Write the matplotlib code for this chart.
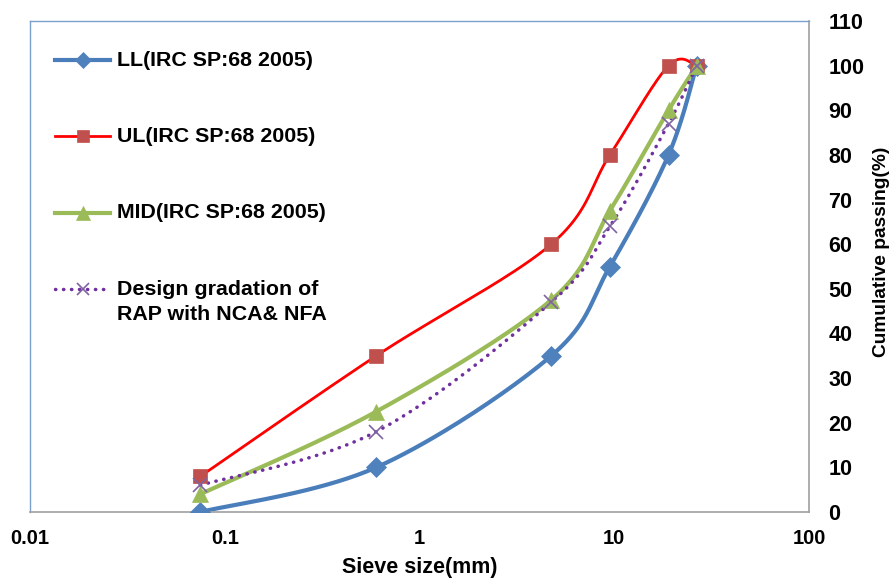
import numpy as np
import matplotlib
matplotlib.use("Agg")
import matplotlib.pyplot as plt
from matplotlib.lines import Line2D

sieve = [0.075, 0.6, 4.75, 9.5, 19, 26.5]
ll = [0, 10, 35, 55, 80, 100]
ul = [8, 35, 60, 80, 100, 100]
mid = [4, 22.5, 47.5, 67.5, 90, 100]
design = [6, 18, 47, 64, 87, 100]

labels = ["LL(IRC SP:68 2005)", "UL(IRC SP:68 2005)", "MID(IRC SP:68 2005)",
          "Design gradation of\nRAP with NCA& NFA"]
xticks = [0.01, 0.1, 1, 10, 100]
xticklabels = ["0.01", "0.1", "1", "10", "100"]
yticks = list(range(0, 111, 10))

plt.rcParams['font.family'] = ['Liberation Sans', 'DejaVu Sans']

W, H = 895, 579


def smooth(xs, ys, n=40):
    lx = np.log10(np.array(xs, float))
    y = np.array(ys, float)
    P = np.column_stack([lx, y])
    pts = []
    for i in range(len(P) - 1):
        p0 = P[i - 1] if i > 0 else P[i]
        p1 = P[i]
        p2 = P[i + 1]
        p3 = P[i + 2] if i + 2 < len(P) else P[i + 1]
        c1 = p1 + (p2 - p0) / 6
        c2 = p2 - (p3 - p1) / 6
        t = np.linspace(0, 1, n)[:, None]
        seg = ((1 - t) ** 3) * p1 + 3 * ((1 - t) ** 2) * t * c1 + 3 * (1 - t) * t ** 2 * c2 + t ** 3 * p2
        pts.append(seg if i == 0 else seg[1:])
    pts = np.vstack(pts)
    return 10 ** pts[:, 0], pts[:, 1]


fig = plt.figure(figsize=(W / 100, H / 100), dpi=100)
ax = fig.add_axes([30 / W, 1 - 512 / H, 779 / W, 491 / H])

series = [
    (ll, "#4A7EBB", 3.0, "-", "D", "#4F81BD", 10, labels[0]),
    (ul, "#FF0000", 2.0, "-", "s", "#C0504D", 9.5, labels[1]),
    (mid, "#9BBB59", 3.0, "-", "^", "#9BBB59", 12, labels[2]),
    (design, "#7030A0", 2.5, (0, (0.1, 2.2)), "x", "#8064A2", 10, labels[3]),
]
for ys, lc, lw, ls, mk, mc, ms, lab in series:
    sx, sy = smooth(sieve, ys)
    ax.plot(sx, sy, color=lc, lw=lw, ls=ls, zorder=2, dash_capstyle="round", solid_capstyle="round")
    ax.plot(sieve, ys, ls="none", marker=mk, color=mc, ms=ms,
            mew=1.2 if mk == "x" else 0.5, zorder=3)

ax.set_xscale("log")
ax.set_xlim(0.01, 100)
ax.set_ylim(0, 110)
ax.set_xticks(xticks)
ax.set_xticklabels(xticklabels)
ax.set_yticks(yticks)
ax.minorticks_off()
ax.yaxis.tick_right()
ax.yaxis.set_label_position("right")
ax.tick_params(axis="both", length=0)
ax.tick_params(axis="x", pad=12, labelsize=14.5)
ax.tick_params(axis="y", pad=14, labelsize=15.5)
for lb in ax.get_xticklabels() + ax.get_yticklabels():
    lb.set_fontweight("bold")

for s in ["top", "left"]:
    ax.spines[s].set_color("#7BA0CD")
    ax.spines[s].set_linewidth(1.0)
for s in ["bottom", "right"]:
    ax.spines[s].set_color("#A0A0A0")
    ax.spines[s].set_linewidth(1.2)

fig.text(419.5 / W, 1 - 568 / H, "Sieve size(mm)", fontsize=15.5, fontweight="bold",
         ha="center", va="center")
fig.text(882 / W, 1 - 252 / H, "Cumulative passing(%)", fontsize=13.8, fontweight="bold",
         ha="center", va="center", rotation=90)

# legend drawn in figure pixel positions
leg_y = [60, 136, 213, 289]
for (ys, lc, lw, ls, mk, mc, ms, lab), yy in zip(series, leg_y):
    yf = 1 - yy / H
    fig.add_artist(Line2D([55 / W, 110 / W], [yf, yf], color=lc, lw=lw, ls=ls,
                          dash_capstyle="round", transform=fig.transFigure))
    fig.add_artist(Line2D([83 / W], [yf], ls="none", marker=mk, color=mc, ms=ms * 0.85,
                          mew=1.2 if mk == "x" else 0.5, transform=fig.transFigure))
    for k, line in enumerate(lab.split("\n")):
        fig.text(117 / W, 1 - (yy + 25 * k) / H, line, fontsize=15.4, fontweight="bold",
                 ha="left", va="center")

fig.savefig("out.png", dpi=100)
